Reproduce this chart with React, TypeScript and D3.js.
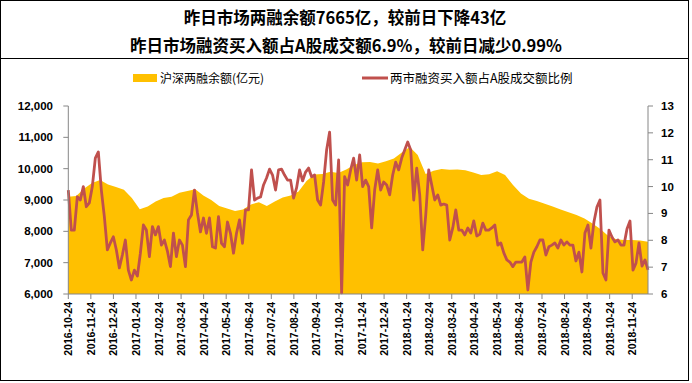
import React from "react";
import * as d3 from "d3";

const title1 = "昨日市场两融余额7665亿，较前日下降43亿";
const title2 = "昨日市场融资买入额占A股成交额6.9%，较前日减少0.99%";
const legendArea = "沪深两融余额(亿元)";
const legendLine = "两市融资买入额占A股成交额比例";

const tickLabels = [
  "2016-10-24", "2016-11-24", "2016-12-24", "2017-01-24", "2017-02-24", "2017-03-24",
  "2017-04-24", "2017-05-24", "2017-06-24", "2017-07-24", "2017-08-24", "2017-09-24",
  "2017-10-24", "2017-11-24", "2017-12-24", "2018-01-24", "2018-02-24", "2018-03-24",
  "2018-04-24", "2018-05-24", "2018-06-24", "2018-07-24", "2018-08-24", "2018-09-24",
  "2018-10-24", "2018-11-24",
];
// months covered by the data, counted from 2016-10-24
const periodMonths = 25.7;

const leftTicks = [6000, 7000, 8000, 9000, 10000, 11000, 12000];
const rightTicks = [6, 7, 8, 9, 10, 11, 12, 13];

// 沪深两融余额 (亿元), evenly spaced over the period
const areaValues = [
  9105, 9128, 9367, 9543, 9638, 9495, 9415, 9329, 9064, 8703,
  8793, 8952, 9064, 9102, 9233, 9287, 9341, 9144, 9000, 8808,
  8729, 8649, 8694, 8856, 8930, 8808, 8952, 9080, 9147, 9271,
  9606, 9814, 9830, 9903, 9862, 9973, 10117, 10203, 10213, 10165,
  10238, 10325, 10516, 10692, 10436, 9830, 9935, 9989, 9964, 9977,
  9951, 9878, 9798, 9820, 9919, 9798, 9479, 9207, 9038, 8968,
  8879, 8793, 8697, 8608, 8521, 8410, 8250, 8075, 7851, 7749,
  7723, 7723, 7707, 7665,
];

// 两市融资买入额占A股成交额比例 (%), evenly spaced over the period
const ratioValues = [
  9.87, 8.38, 8.38, 9.62, 9.50, 10.00, 9.25, 9.39, 10.00, 11.06,
  11.29, 9.87, 8.88, 7.64, 7.90, 8.13, 7.64, 6.97, 7.45, 8.01,
  6.89, 6.52, 6.89, 6.67, 7.52, 8.57, 8.38, 7.39, 8.51, 8.20,
  8.51, 7.82, 8.01, 7.60, 7.02, 8.27, 7.39, 8.01, 7.82, 7.02,
  8.76, 8.94, 9.87, 9.02, 8.31, 8.83, 8.26, 8.83, 7.76, 7.71,
  8.88, 7.89, 7.76, 8.68, 8.26, 7.52, 8.26, 8.76, 7.89, 9.13,
  9.13, 10.62, 9.50, 9.57, 9.61, 10.06, 10.32, 10.65, 10.43, 9.87,
  10.62, 10.65, 10.43, 10.24, 10.24, 9.57, 9.95, 10.62, 10.21, 10.54,
  10.69, 10.36, 10.43, 9.50, 9.31, 10.17, 11.36, 12.03, 9.50, 9.31,
  10.99, 6.04, 10.37, 10.06, 10.62, 11.06, 10.24, 11.18, 10.00, 10.24,
  10.00, 8.46, 9.87, 10.62, 9.87, 10.17, 10.06, 9.69, 10.43, 10.91,
  10.62, 11.06, 11.36, 11.66, 11.36, 9.50, 10.69, 9.69, 7.64, 8.94,
  10.62, 10.06, 9.50, 9.69, 9.31, 9.35, 9.31, 8.01, 8.46, 9.13,
  8.38, 8.38, 8.20, 8.46, 8.27, 8.72, 8.16, 8.23, 8.64, 8.38,
  8.38, 8.46, 8.57, 7.82, 7.90, 7.53, 7.27, 7.19, 7.02, 7.19,
  7.19, 7.19, 7.38, 6.15, 7.19, 7.56, 7.76, 8.01, 8.01, 7.45,
  7.76, 7.82, 7.90, 7.71, 8.01, 7.82, 7.94, 7.82, 7.82, 7.23,
  7.56, 6.82, 8.27, 8.57, 7.71, 8.68, 9.24, 9.50, 6.78, 6.52,
  8.38, 8.12, 7.94, 8.01, 7.82, 7.82, 8.42, 8.72, 6.89, 7.15,
  7.90, 7.04, 7.27, 6.90,
];

const W = 692;
const H = 383;
const plot = { left: 68.3, right: 648, top: 106, bottom: 294 };
const AREA_COLOR = "#FFC000";
const LINE_COLOR = "#C0504D";
const AXIS_COLOR = "#868686";
const CJK = "'Noto Sans CJK SC', 'Noto Sans', sans-serif";
const NUM = "'Liberation Sans', Arial, sans-serif";

export default function App() {
  const x = d3.scaleLinear().domain([0, periodMonths]).range([plot.left, plot.right]);
  const yL = d3.scaleLinear().domain([6000, 12000]).range([plot.bottom, plot.top]);
  const yR = d3.scaleLinear().domain([6, 13]).range([plot.bottom, plot.top]);

  const areaPts = areaValues.map((v, i) => ({ t: (i / (areaValues.length - 1)) * periodMonths, v }));
  const ratioPts = ratioValues.map((v, i) => ({ t: (i / (ratioValues.length - 1)) * periodMonths, v }));

  const areaGen = d3
    .area<{ t: number; v: number }>()
    .x((d) => x(d.t))
    .y0(yL(6000))
    .y1((d) => yL(d.v));
  const lineGen = d3
    .line<{ t: number; v: number }>()
    .x((d) => x(d.t))
    .y((d) => yR(d.v));

  const fmt = d3.format(",");

  return (
    <svg
      width={W}
      height={H}
      style={{ position: "absolute", left: 0, top: 0, background: "#fff" }}
    >
      <rect x={0} y={0} width={W} height={H} fill="#fff" />
      <rect x={0.5} y={0.5} width={688} height={380} fill="none" stroke="#000" strokeWidth={1} />
      <line x1={0.5} x2={688.5} y1={58.5} y2={58.5} stroke="#000" strokeWidth={1} />

      <text x={345} y={24} textAnchor="middle" fontFamily={CJK} fontWeight={700} fontSize={16.5} fill="#000">
        {title1}
      </text>
      <text x={346} y={52} textAnchor="middle" fontFamily={CJK} fontWeight={700} fontSize={16.5} fill="#000">
        {title2}
      </text>

      {/* legend */}
      <rect x={133} y={74} width={24} height={8} fill={AREA_COLOR} />
      <text x={160} y={82.5} fontFamily={CJK} fontSize={12} fill="#000">
        {legendArea}
      </text>
      <line x1={362} x2={388} y1={78} y2={78} stroke={LINE_COLOR} strokeWidth={3} />
      <text x={390} y={82.5} fontFamily={CJK} fontSize={12.5} fill="#000">
        {legendLine}
      </text>

      {/* series */}
      <path d={areaGen(areaPts) || ""} fill={AREA_COLOR} />
      <path
        d={lineGen(ratioPts) || ""}
        fill="none"
        stroke={LINE_COLOR}
        strokeWidth={2.8}
        strokeLinejoin="round"
      />

      {/* left axis */}
      <line x1={plot.left} x2={plot.left} y1={plot.top} y2={plot.bottom} stroke={AXIS_COLOR} />
      {leftTicks.map((t) => (
        <g key={t}>
          <line x1={plot.left - 5} x2={plot.left} y1={yL(t)} y2={yL(t)} stroke={AXIS_COLOR} />
          <text
            x={53}
            y={yL(t) + 4}
            textAnchor="end"
            fontFamily={NUM}
            fontWeight={700}
            fontSize={11.5}
            fill="#000"
          >
            {fmt(t)}
          </text>
        </g>
      ))}

      {/* right axis */}
      <line x1={plot.right} x2={plot.right} y1={plot.top} y2={plot.bottom} stroke={AXIS_COLOR} />
      {rightTicks.map((t) => (
        <g key={t}>
          <line x1={plot.right} x2={plot.right + 5} y1={yR(t)} y2={yR(t)} stroke={AXIS_COLOR} />
          <text x={661} y={yR(t) + 4} fontFamily={NUM} fontWeight={700} fontSize={11.5} fill="#000">
            {t}
          </text>
        </g>
      ))}

      {/* bottom axis */}
      <line x1={plot.left} x2={plot.right} y1={plot.bottom} y2={plot.bottom} stroke={AXIS_COLOR} />
      {tickLabels.map((lab, i) => (
        <g key={lab}>
          <line x1={x(i)} x2={x(i)} y1={plot.bottom} y2={plot.bottom + 5} stroke={AXIS_COLOR} />
          <text
            transform={`translate(${x(i) + 4},${plot.bottom + 8}) rotate(-90)`}
            textAnchor="end"
            fontFamily={NUM}
            fontWeight={700}
            fontSize={10.5}
            fill="#000"
          >
            {lab}
          </text>
        </g>
      ))}
    </svg>
  );
}
